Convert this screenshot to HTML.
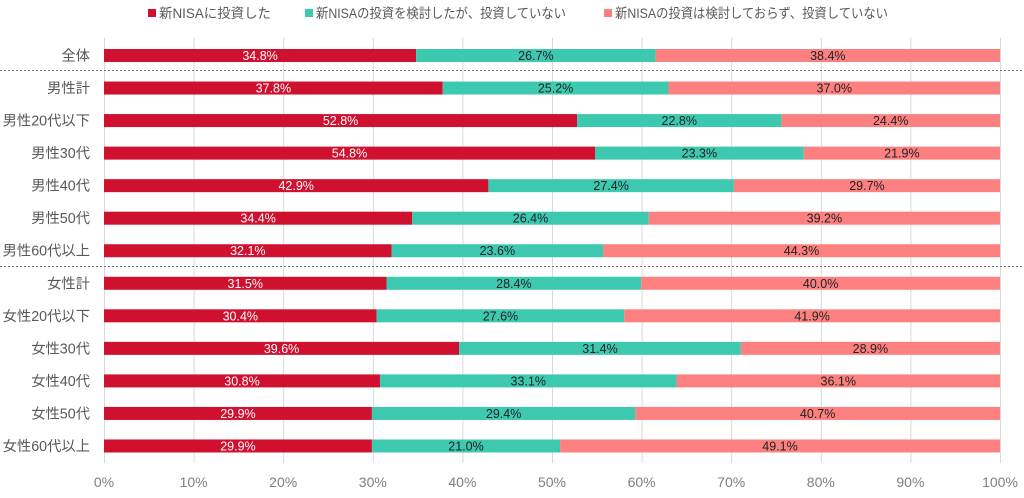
<!DOCTYPE html>
<html><head><meta charset="utf-8"><style>
body{margin:0;background:#fff;}
svg text{font-family:"Liberation Sans","Noto Sans CJK JP",sans-serif;}
</style></head><body>
<svg width="1024" height="493" xmlns="http://www.w3.org/2000/svg">
<g font-size="13.5" fill="#595959">
<rect x="148" y="9" width="8" height="8" fill="#d0102f"/><text x="159" y="18" textLength="112" lengthAdjust="spacingAndGlyphs">新NISAに投資した</text>
<rect x="305" y="9" width="8" height="8" fill="#3cc9b0"/><text x="316" y="18" textLength="250" lengthAdjust="spacingAndGlyphs">新NISAの投資を検討したが、投資していない</text>
<rect x="604" y="9" width="8" height="8" fill="#fd8080"/><text x="615" y="18" textLength="273" lengthAdjust="spacingAndGlyphs">新NISAの投資は検討しておらず、投資していない</text>
</g>
<g stroke="#d9d9d9" stroke-width="1" id="grid"></g>
<g id="bars"></g>
<line x1="0" y1="70.5" x2="1024" y2="70.5" stroke="#777" stroke-dasharray="2,2"/>
<line x1="0" y1="266.5" x2="1024" y2="266.5" stroke="#777" stroke-dasharray="2,2"/>
<g id="xl" font-size="14" fill="#7f7f7f" text-anchor="middle"></g>
</svg>
<script>
const ns="http://www.w3.org/2000/svg";
function el(t,a,p,txt){const e=document.createElementNS(ns,t);for(const k in a)e.setAttribute(k,a[k]);if(txt!=null)e.textContent=txt;document.getElementById(p).appendChild(e);return e;}
const X0=104,W=896;
for(let i=0;i<=10;i++){const x=X0+W*i/10;el('line',{x1:x+0.5,x2:x+0.5,y1:38,y2:463},'grid');el('text',{x:x,y:487},'xl',i*10+'%');}
const d=[["全体",34.8,26.7,38.4],["男性計",37.8,25.2,37.0],["男性20代以下",52.8,22.8,24.4],["男性30代",54.8,23.3,21.9],["男性40代",42.9,27.4,29.7],["男性50代",34.4,26.4,39.2],["男性60代以上",32.1,23.6,44.3],["女性計",31.5,28.4,40.0],["女性20代以下",30.4,27.6,41.9],["女性30代",39.6,31.4,28.9],["女性40代",30.8,33.1,36.1],["女性50代",29.9,29.4,40.7],["女性60代以上",29.9,21.0,49.1]];
const cols=["#d0102f","#3cc9b0","#fd8080"],tc=["#fff","#222","#222"];
d.forEach((r,i)=>{const cy=55.5+i*32.54;const y=cy-6.5;
el('text',{x:90,y:cy+5,'text-anchor':'end','font-size':'14.3',fill:'#595959'},'bars',r[0]);
let s=0;const tot=r[1]+r[2]+r[3];
for(let j=0;j<3;j++){const x=X0+W*s/tot,w=W*r[j+1]/tot;
el('rect',{x:x,y:y,width:w,height:13,fill:cols[j]},'bars');
el('text',{x:x+w/2,y:cy+4.5,'text-anchor':'middle','font-size':'12.5',fill:tc[j]},'bars',r[j+1].toFixed(1)+'%');
s+=r[j+1];}
});
</script>
</body></html>
